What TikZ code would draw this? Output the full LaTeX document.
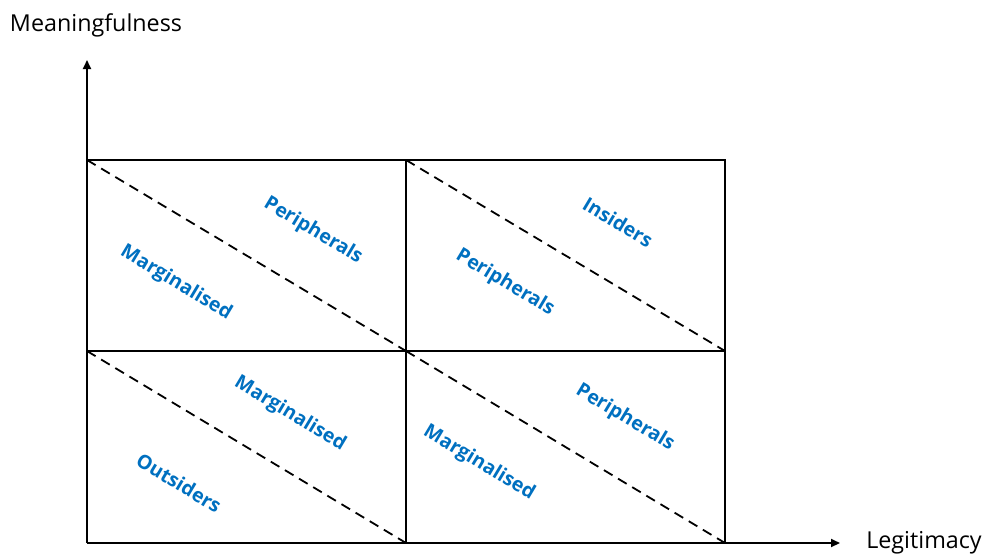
\documentclass[tikz,border=0pt]{standalone}
\usepackage{fontspec}
\setmainfont{Open Sans}
\usetikzlibrary{arrows.meta}
\definecolor{lblue}{HTML}{0070C0}
\begin{document}
\begin{tikzpicture}[x=1pt,y=-1pt,
  gridline/.style={line width=2pt,black},
  diag/.style={line width=1.8pt,dash pattern=on 10pt off 6.5pt},
  axis/.style={line width=2pt,-{Triangle[length=9pt,width=8pt]}},
  lbl/.style={text=lblue,font=\fontsize{19.5}{23}\selectfont\bfseries,rotate=-31,inner sep=0pt},
  axlbl/.style={font=\fontsize{23.3}{28}\selectfont,inner sep=0pt}]
\useasboundingbox (0,0) rectangle (982,554);
% grid coordinates
\coordinate (a1) at (87,160); \coordinate (a2) at (406,160); \coordinate (a3) at (725,160);
\coordinate (b1) at (87,351); \coordinate (b2) at (406,351); \coordinate (b3) at (725,351);
\coordinate (c1) at (87,543); \coordinate (c2) at (406,543); \coordinate (c3) at (725,543);
\coordinate (ytip) at (87,60); \coordinate (xtip) at (840,543);
% axes
\draw[axis] (c1) -- (ytip);
\draw[axis] (c1) -- (xtip);
% grid
\draw[gridline] (a1) -- (a3) -- (c3);
\draw[gridline] (b1) -- (b3);
\draw[gridline] (a2) -- (c2);
\draw[gridline] (c1) -- (c3);
\draw[gridline] (a1) -- (c1);
% diagonals
\draw[diag] (a1) -- (b2);
\draw[diag] (a2) -- (b3);
\draw[diag] (b1) -- (c2);
\draw[diag] (b2) -- (c3);
% labels
\node[axlbl] (ym) at (96,25) {Meaningfulness};
\node[axlbl] (xl) at (924,543) {Legitimacy};
\node[lbl] (p1) at (313,231) {Peripherals};
\node[lbl] (m1) at (176,283) {Marginalised};
\node[lbl] (i1) at (618,222) {Insiders};
\node[lbl] (p2) at (505,283) {Peripherals};
\node[lbl] (m2) at (290,414) {Marginalised};
\node[lbl] (o1) at (179,483) {Outsiders};
\node[lbl] (p3) at (625,418) {Peripherals};
\node[lbl] (m3) at (479,463) {Marginalised};
\end{tikzpicture}
\end{document}
